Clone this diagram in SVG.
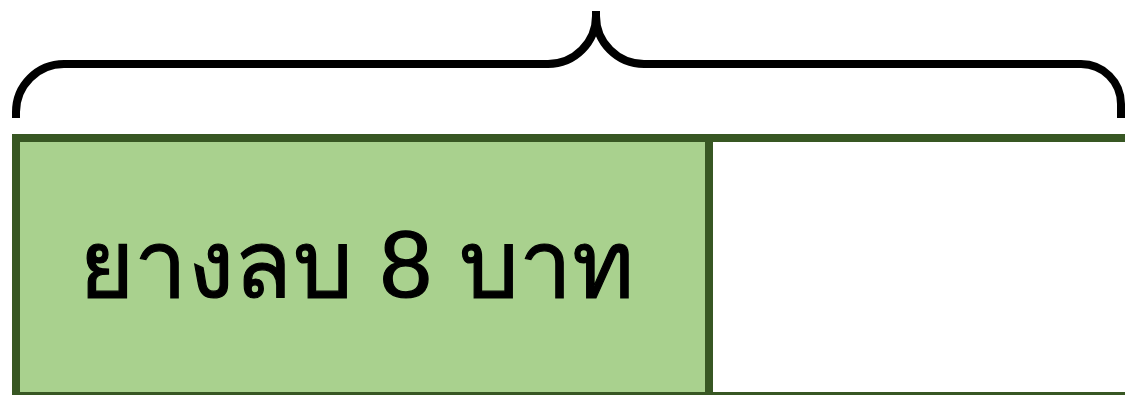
<svg xmlns="http://www.w3.org/2000/svg" width="1125" height="395" viewBox="0 0 1125 395">
  <style>
    .box { stroke: #385723; stroke-width: 8; }
    .brace { fill: none; stroke: #000000; stroke-width: 8; stroke-linejoin: round; }
    .label { font-family: "Liberation Sans", "Noto Sans", "DejaVu Sans", sans-serif; font-size: 94px; fill: #000000; stroke: #000000; stroke-width: 1.2; }
  </style>
  <rect width="1125" height="395" fill="#ffffff"/>
  <g id="connectors">
    <path id="brace" class="brace" d="M16,118 L16,112 A48,48 0 0 1 64,64 L548,64 A48,48 0 0 0 596,16 L596,11 M596,11 L596,16 A48,48 0 0 0 644,64 L1081,64 A40,40 0 0 1 1121,104 L1121,118"/>
  </g>
  <g id="node-empty">
    <rect class="box" x="709" y="138" width="460" height="258" fill="#ffffff"/>
  </g>
  <g id="node-eraser">
    <rect class="box" x="16" y="138" width="693" height="258" fill="#a9d18e"/>
    <text class="label" x="357" y="297" text-anchor="middle" textLength="556" lengthAdjust="spacingAndGlyphs">ยางลบ 8 บาท</text>
  </g>
</svg>
